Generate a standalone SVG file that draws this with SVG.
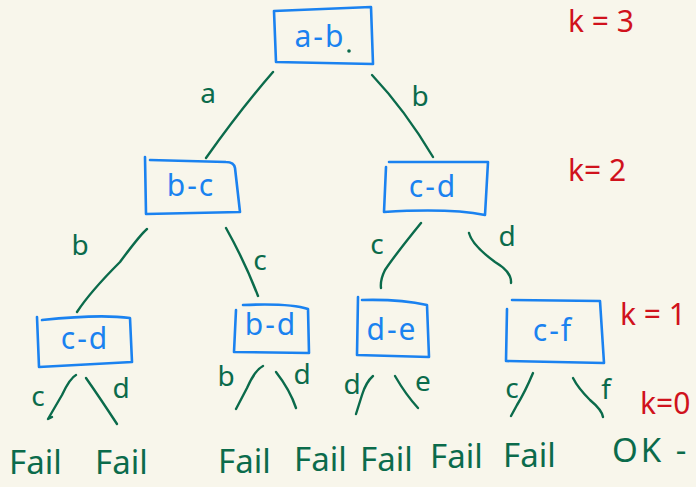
<svg xmlns="http://www.w3.org/2000/svg" width="696" height="487" viewBox="0 0 696 487">
<style>
.bg{fill:#f8f6eb}
.box{fill:none;stroke:#1a82f0;stroke-width:2.6;stroke-linejoin:round;stroke-linecap:round}
.bt{fill:#1a82f0;font-family:"Noto Sans","Liberation Sans",sans-serif;font-size:30px;letter-spacing:2px;text-anchor:middle}
.e{fill:none;stroke:#0b6b4b;stroke-width:2.4;stroke-linecap:round;stroke-linejoin:round}
.el{fill:#0b6b4b;font-family:"Noto Sans","Liberation Sans",sans-serif;font-size:28px;text-anchor:middle}
.res{fill:#0b6b4b;font-family:"Noto Sans","Liberation Sans",sans-serif;font-size:33px}
.k{fill:#d0121c;font-family:"Noto Sans","Liberation Sans",sans-serif;font-size:30px}
</style>
<rect class="bg" width="696" height="487"/>
<g id="connectors">
<path class="e" d="M273,72 Q240,110 206,158"/>
<path class="e" d="M372,75 Q405,110 433,157"/>
<path class="e" d="M147,229 Q140,235 120,262 Q90,292 77,312"/>
<path class="e" d="M226,228 Q245,262 258,296"/>
<path class="e" d="M421,223 Q395,255 385,270 Q380,280 381,288"/>
<path class="e" d="M469,233 Q472,245 495,262 Q512,272 511,283"/>
<path class="e" d="M76,375 Q70,378 62,395 L48,419 L52,417"/>
<path class="e" d="M86,378 Q100,398 117,424"/>
<path class="e" d="M263,366 Q255,370 247,388 L236,409"/>
<path class="e" d="M276,372 Q290,390 296,408"/>
<path class="e" d="M373,376 Q366,382 362,395 L356,414"/>
<path class="e" d="M395,376 Q406,395 418,408"/>
<path class="e" d="M533,373 Q525,392 517,405 L511,416"/>
<path class="e" d="M573,378 Q578,388 590,400 Q602,410 603,417"/>
</g>
<g id="edge-labels">
<text class="el" x="208" y="103">a</text>
<text class="el" x="420" y="106">b</text>
<text class="el" x="80" y="255">b</text>
<text class="el" x="260" y="270">c</text>
<text class="el" x="377" y="254">c</text>
<text class="el" x="507" y="246">d</text>
<text class="el" x="38" y="406">c</text>
<text class="el" x="121" y="398">d</text>
<text class="el" x="226" y="386">b</text>
<text class="el" x="302" y="384">d</text>
<text class="el" x="352" y="394">d</text>
<text class="el" x="423" y="391">e</text>
<text class="el" x="512" y="398">c</text>
<text class="el" x="606" y="399">f</text>
</g>
<g id="n-ab">
<path class="box" d="M274,11 L371,7 L373,64 L276,62 Z"/>
<text class="bt" x="320" y="47">a-b</text>
<circle cx="349" cy="51" r="1.8" fill="#0b6b4b"/>
</g>
<g id="n-bc">
<path class="box" d="M145,157 L146,214 L240,212 L235,168 Q234,162 226,162 L150,160"/>
<text class="bt" x="191" y="196">b-c</text>
</g>
<g id="n-cd1">
<path class="box" d="M389,162 L488,162 L485,215 Q450,208 384,212 L386,167"/>
<text class="bt" x="433" y="197">c-d</text>
</g>
<g id="n-cd2">
<path class="box" d="M37,317 L39,367 L132,362 L130,318 Q100,314 42,320"/>
<text class="bt" x="85" y="349">c-d</text>
</g>
<g id="n-bd">
<path class="box" d="M236,310 L234,352 L309,353 L308,309 Q290,303 243,305"/>
<text class="bt" x="271" y="335">b-d</text>
</g>
<g id="n-de">
<path class="box" d="M358,297 L357,355 L429,357 L427,305 Q400,299 362,300"/>
<text class="bt" x="392" y="340">d-e</text>
</g>
<g id="n-cf">
<path class="box" d="M507,309 L506,361 L604,363 L600,301 L512,300"/>
<text class="bt" x="553" y="341">c-f</text>
</g>
<g id="results">
<text class="res" x="9" y="474">Fail</text>
<text class="res" x="95" y="474">Fail</text>
<text class="res" x="218" y="473">Fail</text>
<text class="res" x="294" y="471">Fail</text>
<text class="res" x="360" y="471">Fail</text>
<text class="res" x="430" y="468">Fail</text>
<text class="res" x="503" y="467">Fail</text>
<text class="res" x="612" y="462" letter-spacing="3">OK -</text>
</g>
<g id="levels">
<text class="k" x="568" y="32">k = 3</text>
<text class="k" x="568" y="181">k= 2</text>
<text class="k" x="620" y="325">k = 1</text>
<text class="k" x="640" y="414" font-size="26">k=0</text>
</g>
</svg>
